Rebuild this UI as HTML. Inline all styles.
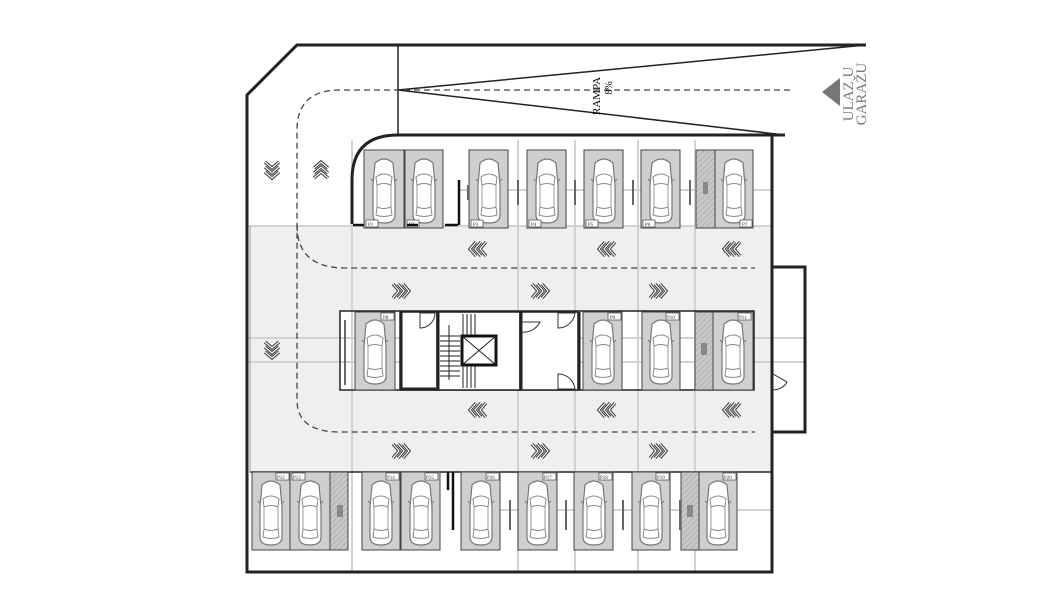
<!DOCTYPE html>
<html><head><meta charset="utf-8">
<style>html,body{margin:0;padding:0;background:#fff}svg{display:block}</style>
</head><body>
<svg width="1062" height="611" viewBox="0 0 1062 611" xmlns="http://www.w3.org/2000/svg" font-family="Liberation Serif, serif">
<defs>
<symbol id="car" viewBox="0 0 30 70" width="30" height="70">
<path d="M6 8 Q15 0 24 8 L26 30 L26 60 Q26 68 15 68 Q4 68 4 60 L4 30 Z" fill="#fff" stroke="#777" stroke-width="1.2"/>
<path d="M7 22 Q15 16 23 22 L22 30 Q15 27 8 30 Z" fill="none" stroke="#888" stroke-width="1"/>
<path d="M8 52 Q15 55 22 52 L23 60 Q15 63 7 60 Z" fill="none" stroke="#888" stroke-width="1"/>
<line x1="8" y1="30" x2="8" y2="52" stroke="#999"/><line x1="22" y1="30" x2="22" y2="52" stroke="#999"/>
<line x1="2" y1="24" x2="4" y2="26" stroke="#777"/><line x1="28" y1="24" x2="26" y2="26" stroke="#777"/>
</symbol>
<g id="chev">
<g fill="none" stroke="#333" stroke-width="3.2" stroke-linejoin="miter">
<polyline points="-8,-7 -2,0 -8,7"/><polyline points="-3,-7 3,0 -3,7"/><polyline points="2,-7 8,0 2,7"/>
</g>
<g fill="none" stroke="#fff" stroke-width="1.2">
<polyline points="-8,-7 -2,0 -8,7"/><polyline points="-3,-7 3,0 -3,7"/><polyline points="2,-7 8,0 2,7"/>
</g>
</g>
<pattern id="hatch" width="4" height="4" patternUnits="userSpaceOnUse" patternTransform="rotate(45)">
<rect width="4" height="4" fill="#c8c8c8"/><line x1="0" y1="0" x2="0" y2="4" stroke="#aaa" stroke-width="1.5"/>
</pattern>
</defs>
<rect x="250" y="226" width="521" height="246" fill="#eef0ee"/>
<rect x="340" y="311" width="414" height="79" fill="#fff"/>
<g stroke="#d2d2d2" stroke-width="2">
<line x1="352" y1="140" x2="352" y2="572"/><line x1="518" y1="140" x2="518" y2="572"/>
<line x1="575" y1="140" x2="575" y2="572"/><line x1="638" y1="140" x2="638" y2="572"/>
<line x1="695" y1="140" x2="695" y2="572"/>
<line x1="460" y1="190" x2="772" y2="190"/><line x1="247" y1="338" x2="805" y2="338"/>
<line x1="247" y1="362" x2="805" y2="362"/><line x1="460" y1="510" x2="772" y2="510"/>
<line x1="247" y1="226" x2="772" y2="226"/>
</g>
<g fill="none" stroke="#222" stroke-width="3">
<path d="M866 45 L297 45 L247 95 L247 572 L772 572 L772 135"/>
<path d="M785 135 L398 135 Q352 135 352 180 L352 224"/>
<path d="M772 267 L805 267 L805 432 L772 432"/>
</g>
<g stroke="#222" stroke-width="1.5" fill="none">
<line x1="398" y1="45" x2="398" y2="135"/>
<line x1="398" y1="90" x2="866" y2="45"/><line x1="398" y1="90" x2="785" y2="135"/>
<rect x="340" y="311" width="414" height="79"/>
<line x1="250" y1="472" x2="771" y2="472"/>
</g>
<line x1="250" y1="226" x2="250" y2="472" stroke="#999"/>
<g fill="none" stroke="#444" stroke-width="1.3" stroke-dasharray="6,4">
<path d="M790 90 L340 90 Q297 90 297 130 L297 400 Q297 432 340 432 L755 432"/>
<path d="M297 225 Q297 268 345 268 L755 268"/>
</g>
<text transform="translate(600,96) rotate(-90)" font-size="11" text-anchor="middle">RAMPA</text>
<text transform="translate(612,88) rotate(-90)" font-size="10" text-anchor="middle">8%</text>
<polygon points="822,92 840,78 840,106" fill="#777"/>
<text transform="translate(853,94) rotate(-90)" font-size="15" fill="#777" text-anchor="middle">ULAZ U</text>
<text transform="translate(866,94) rotate(-90)" font-size="15" fill="#777" text-anchor="middle">GARAŽU</text>
<g fill="#cfcfcf" stroke="#444" stroke-width="1">
<rect x="364" y="150" width="40" height="78"/><rect x="405" y="150" width="38" height="78"/>
<rect x="469" y="150" width="39" height="78"/><rect x="527" y="150" width="39" height="78"/>
<rect x="584" y="150" width="39" height="78"/><rect x="641" y="150" width="39" height="78"/>
<rect x="696" y="150" width="19" height="78" fill="url(#hatch)"/><rect x="715" y="150" width="38" height="78"/>
<rect x="355" y="312" width="40" height="78"/>
<rect x="583" y="312" width="39" height="78"/><rect x="642" y="312" width="38" height="78"/>
<rect x="695" y="312" width="18" height="78" fill="url(#hatch)"/><rect x="713" y="312" width="40" height="78"/>
<rect x="252" y="472" width="38" height="78"/><rect x="290" y="472" width="40" height="78"/>
<rect x="330" y="472" width="18" height="78" fill="url(#hatch)"/>
<rect x="362" y="472" width="38" height="78"/><rect x="401" y="472" width="39" height="78"/>
<rect x="461" y="472" width="39" height="78"/><rect x="518" y="472" width="39" height="78"/>
<rect x="574" y="472" width="39" height="78"/><rect x="632" y="472" width="38" height="78"/>
<rect x="681" y="472" width="18" height="78" fill="url(#hatch)"/><rect x="699" y="472" width="38" height="78"/>
</g>
<g>
<use href="#car" x="369" y="155"/><use href="#car" x="409" y="155"/><use href="#car" x="474" y="155"/>
<use href="#car" x="532" y="155"/><use href="#car" x="589" y="155"/><use href="#car" x="646" y="155"/>
<use href="#car" x="719" y="155"/>
<use href="#car" x="360" y="316"/><use href="#car" x="588" y="316"/><use href="#car" x="646" y="316"/><use href="#car" x="718" y="316"/>
<use href="#car" x="256" y="477"/><use href="#car" x="295" y="477"/><use href="#car" x="366" y="477"/><use href="#car" x="406" y="477"/>
<use href="#car" x="466" y="477"/><use href="#car" x="523" y="477"/><use href="#car" x="579" y="477"/><use href="#car" x="636" y="477"/>
<use href="#car" x="703" y="477"/>
</g>
<g font-size="5" fill="#333">
<g fill="#fff" stroke="#444" stroke-width=".7">
<rect x="366" y="220" width="12" height="7"/><rect x="407" y="220" width="12" height="7"/><rect x="471" y="220" width="12" height="7"/>
<rect x="529" y="220" width="12" height="7"/><rect x="586" y="220" width="12" height="7"/><rect x="643" y="220" width="12" height="7"/>
<rect x="740" y="220" width="12" height="7"/>
<rect x="381" y="313" width="13" height="7"/><rect x="608" y="313" width="13" height="7"/><rect x="666" y="313" width="13" height="7"/><rect x="738" y="313" width="13" height="7"/>
<rect x="276" y="473" width="13" height="7"/><rect x="292" y="473" width="13" height="7"/><rect x="386" y="473" width="13" height="7"/>
<rect x="425" y="473" width="13" height="7"/><rect x="486" y="473" width="13" height="7"/><rect x="543" y="473" width="13" height="7"/>
<rect x="599" y="473" width="13" height="7"/><rect x="656" y="473" width="13" height="7"/><rect x="723" y="473" width="13" height="7"/>
</g>
<text x="368" y="226">P1</text><text x="409" y="226">P2</text><text x="473" y="226">P3</text><text x="531" y="226">P4</text>
<text x="588" y="226">P5</text><text x="645" y="226">P6</text><text x="742" y="226">P7</text>
<text x="383" y="319">P8</text><text x="610" y="319">P9</text><text x="667" y="319">P10</text><text x="739" y="319">P11</text>
<text x="277" y="479">P12</text><text x="293" y="479">P13</text><text x="387" y="479">P14</text><text x="426" y="479">P15</text>
<text x="487" y="479">P16</text><text x="544" y="479">P17</text><text x="600" y="479">P18</text><text x="657" y="479">P19</text><text x="724" y="479">P20</text>
</g>
<g stroke="#111" stroke-width="2.5">
<line x1="353" y1="225" x2="364" y2="225"/><line x1="407" y1="225" x2="418" y2="225"/>
<line x1="445" y1="225" x2="458" y2="225"/><line x1="459" y1="180" x2="459" y2="225"/>
<line x1="453" y1="472" x2="453" y2="530"/><line x1="448" y1="472" x2="448" y2="490"/>
</g>
<g stroke="#666" stroke-width="2">
<line x1="468" y1="185" x2="468" y2="200"/><line x1="518" y1="180" x2="518" y2="205"/><line x1="575" y1="180" x2="575" y2="205"/>
<line x1="633" y1="180" x2="633" y2="205"/><line x1="690" y1="180" x2="690" y2="205"/>
<line x1="345" y1="320" x2="345" y2="385"/>
<line x1="510" y1="500" x2="510" y2="530"/><line x1="566" y1="500" x2="566" y2="530"/><line x1="623" y1="500" x2="623" y2="530"/><line x1="680" y1="500" x2="680" y2="530"/>
</g>
<rect x="703" y="182" width="5" height="12" fill="#888"/><rect x="701" y="343" width="6" height="12" fill="#888"/>
<rect x="337" y="505" width="6" height="12" fill="#888"/><rect x="687" y="505" width="6" height="12" fill="#888"/>
<g fill="#fff" stroke="#222" stroke-width="1.5">
<rect x="400" y="312" width="37" height="78"/>
<rect x="437" y="312" width="83" height="78"/>
<rect x="520" y="312" width="58" height="78"/>
</g>
<g stroke="#222" stroke-width="3" fill="none">
<line x1="401" y1="312" x2="401" y2="390"/><line x1="401" y1="389" x2="436" y2="389"/>
<line x1="438" y1="312" x2="438" y2="390"/><line x1="521" y1="312" x2="521" y2="390"/>
<line x1="579" y1="312" x2="579" y2="390"/>
</g>
<g stroke="#222" stroke-width="1">
<line x1="440" y1="336" x2="460" y2="336"/><line x1="440" y1="341" x2="460" y2="341"/><line x1="440" y1="346" x2="460" y2="346"/>
<line x1="440" y1="351" x2="460" y2="351"/><line x1="440" y1="356" x2="460" y2="356"/><line x1="440" y1="361" x2="460" y2="361"/>
<line x1="440" y1="366" x2="460" y2="366"/><line x1="440" y1="371" x2="460" y2="371"/><line x1="440" y1="376" x2="460" y2="376"/>
<line x1="463" y1="314" x2="463" y2="335"/><line x1="467" y1="314" x2="467" y2="335"/><line x1="471" y1="314" x2="471" y2="335"/><line x1="475" y1="314" x2="475" y2="335"/>
<line x1="463" y1="366" x2="463" y2="388"/><line x1="467" y1="366" x2="467" y2="388"/><line x1="471" y1="366" x2="471" y2="388"/><line x1="475" y1="366" x2="475" y2="388"/>
<line x1="449" y1="325" x2="449" y2="380"/>
</g>
<rect x="462" y="336" width="34" height="29" fill="#fff" stroke="#111" stroke-width="3"/>
<line x1="462" y1="336" x2="496" y2="365" stroke="#222"/><line x1="496" y1="336" x2="462" y2="365" stroke="#222"/>
<g fill="#fff" stroke="#333" stroke-width="1">
<path d="M420 313 L420 328 A15 15 0 0 0 435 313 Z"/>
<path d="M522 322 L540 322 A18 18 0 0 1 522 332 Z"/>
<path d="M558 313 L575 313 A17 17 0 0 1 558 328 Z"/>
<path d="M558 389 L575 389 A17 17 0 0 0 558 374 Z"/>
<path d="M773 374 L773 390 A16 12 0 0 0 787 382 Z"/>
</g>
<!-- chevrons -->
<use href="#chev" transform="translate(478,249) scale(-1,1)"/>
<use href="#chev" transform="translate(607,249) scale(-1,1)"/>
<use href="#chev" transform="translate(732,249) scale(-1,1)"/>
<use href="#chev" transform="translate(401,291)"/>
<use href="#chev" transform="translate(540,291)"/>
<use href="#chev" transform="translate(658,291)"/>
<use href="#chev" transform="translate(478,410) scale(-1,1)"/>
<use href="#chev" transform="translate(607,410) scale(-1,1)"/>
<use href="#chev" transform="translate(732,410) scale(-1,1)"/>
<use href="#chev" transform="translate(401,451)"/>
<use href="#chev" transform="translate(540,451)"/>
<use href="#chev" transform="translate(658,451)"/>
<use href="#chev" transform="translate(272,170) rotate(90)"/>
<use href="#chev" transform="translate(321,170) rotate(-90)"/>
<use href="#chev" transform="translate(272,350) rotate(90)"/>
</svg>
</body></html>
